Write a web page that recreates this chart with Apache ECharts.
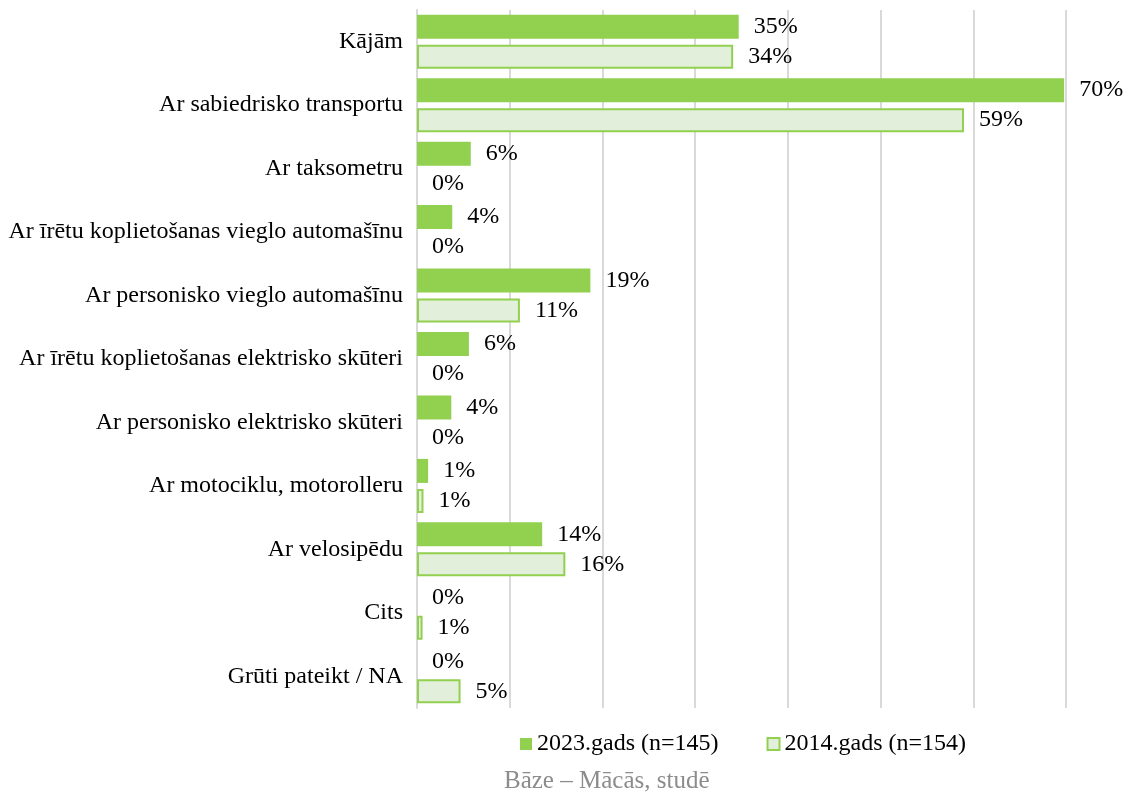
<!DOCTYPE html>
<html>
<head>
<meta charset="utf-8">
<script src="https://cdn.jsdelivr.net/npm/echarts@6/dist/echarts.min.js"></script>
<style>
  html, body { margin: 0; padding: 0; background: #fff; }
  #chart { width: 1146px; height: 792px; }
</style>
</head>
<body>
<div id="chart"></div>
<script>
  const categories = [
    'Kājām',
    'Ar sabiedrisko transportu',
    'Ar taksometru',
    'Ar īrētu koplietošanas vieglo automašīnu',
    'Ar personisko vieglo automašīnu',
    'Ar īrētu koplietošanas elektrisko skūteri',
    'Ar personisko elektrisko skūteri',
    'Ar motociklu, motorolleru',
    'Ar velosipēdu',
    'Cits',
    'Grūti pateikt / NA'
  ];
  const values2023 = [34.7, 69.8, 5.8, 3.8, 18.7, 5.6, 3.7, 1.2, 13.5, 0, 0];
  const values2014 = [34.1, 59.0, 0, 0, 11.1, 0, 0, 0.7, 16.0, 0.6, 4.7];
  const seriesNames = ['2023.gads (n=145)', '2014.gads (n=154)'];
  const footer = 'Bāze – Mācās, studē';

  const font = '"Liberation Serif", "Times New Roman", serif';
  const green = '#92d050';
  const lightGreen = '#e2efda';

  const chart = echarts.init(document.getElementById('chart'));

  const labelOpt = {
    show: true,
    position: 'right',
    distance: 15,
    color: '#000',
    fontFamily: font,
    fontSize: 24,
    formatter: p => Math.round(p.value) + '%'
  };

  // zero bars in the 2014 series have no visible outline
  const data2014 = values2014.map(v => v === 0
    ? { value: v, itemStyle: { borderWidth: 0 } }
    : v);

  const option = {
    animation: false,
    textStyle: { fontFamily: font },
    title: {
      text: footer,
      left: 499,
      top: 764,
      textStyle: { color: '#8c8c8c', fontSize: 25, fontWeight: 'normal', fontFamily: font }
    },
    legend: {
      data: seriesNames,
      top: 727,
      left: 515,
      icon: 'rect',
      itemWidth: 12,
      itemHeight: 12,
      itemGap: 48,
      textStyle: { color: '#000', fontSize: 24, fontFamily: font }
    },
    grid: {
      left: 417,
      right: 80,
      top: 10,
      bottom: 84,
      containLabel: false
    },
    xAxis: {
      type: 'value',
      min: 0,
      max: 70,
      interval: 10,
      axisLabel: { show: false },
      axisLine: { show: false },
      axisTick: { show: false },
      splitLine: { lineStyle: { color: '#d9d9d9', width: 2 } }
    },
    yAxis: {
      type: 'category',
      inverse: true,
      data: categories,
      axisLine: { show: true, lineStyle: { color: '#d9d9d9', width: 2 } },
      axisTick: { show: false },
      axisLabel: { color: '#000', fontSize: 24, fontFamily: font, margin: 14 }
    },
    series: [
      {
        name: seriesNames[0],
        type: 'bar',
        data: values2023,
        barWidth: 24,
        barGap: '25%',
        itemStyle: { color: green },
        label: labelOpt
      },
      {
        name: seriesNames[1],
        type: 'bar',
        data: data2014,
        barWidth: 24,
        itemStyle: { color: lightGreen, borderColor: green, borderWidth: 2 },
        label: labelOpt
      }
    ]
  };

  chart.setOption(option);
</script>
</body>
</html>
